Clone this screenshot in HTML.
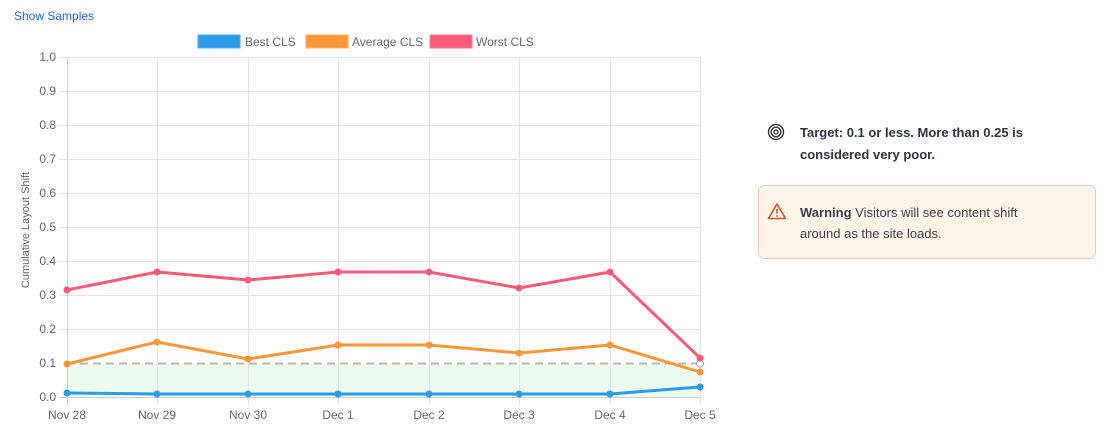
<!DOCTYPE html>
<html><head><meta charset="utf-8"><style>
body{margin:0;width:1113px;height:440px;background:#fff;font-family:"Liberation Sans",sans-serif;position:relative;overflow:hidden}
.a{position:absolute}
</style></head><body>
<div class="a" style="left:14px;top:9px;font-size:12px;color:#2563eb">Show Samples</div>
<svg class="a" style="left:0;top:0" width="740" height="440" font-family="Liberation Sans, sans-serif">
<g font-size="12" fill="#666">
<rect x="198" y="35" width="42" height="13" fill="#2d9be8" stroke="#4aaaf0"/><text x="245" y="46">Best CLS</text>
<rect x="306" y="35" width="42" height="13" fill="#ff973b" stroke="#ffab60"/><text x="352" y="46">Average CLS</text>
<rect x="430" y="35" width="42" height="13" fill="#ff5a7a" stroke="#ff7d95"/><text x="476" y="46">Worst CLS</text>
</g>
<rect x="67" y="363" width="633" height="34" fill="#ecfbef"/>
<g stroke="#e4e4e4" stroke-width="1">
<line x1="59" y1="57.5" x2="700" y2="57.5"/><line x1="59" y1="91.5" x2="700" y2="91.5"/><line x1="59" y1="125.5" x2="700" y2="125.5"/><line x1="59" y1="159.5" x2="700" y2="159.5"/><line x1="59" y1="193.5" x2="700" y2="193.5"/><line x1="59" y1="227.5" x2="700" y2="227.5"/><line x1="59" y1="261.5" x2="700" y2="261.5"/><line x1="59" y1="295.5" x2="700" y2="295.5"/><line x1="59" y1="329.5" x2="700" y2="329.5"/>
<line x1="157.5" y1="57" x2="157.5" y2="405"/><line x1="248.5" y1="57" x2="248.5" y2="405"/><line x1="338.5" y1="57" x2="338.5" y2="405"/><line x1="429.5" y1="57" x2="429.5" y2="405"/><line x1="519.5" y1="57" x2="519.5" y2="405"/><line x1="610.5" y1="57" x2="610.5" y2="405"/><line x1="700.5" y1="57" x2="700.5" y2="405"/>
</g>
<line x1="59" y1="397.5" x2="700" y2="397.5" stroke="#d0d0d0"/>
<line x1="67.5" y1="57" x2="67.5" y2="405" stroke="#d0d0d0"/>
<line x1="67" y1="363.5" x2="700" y2="363.5" stroke="#b8b8b8" stroke-width="2" stroke-dasharray="8,5"/>
<circle cx="700" cy="363.5" r="3.5" fill="#fff" stroke="#aaa"/>
<g font-size="12" fill="#666" text-anchor="end">
<text x="56" y="61">1.0</text><text x="56" y="95">0.9</text><text x="56" y="129">0.8</text><text x="56" y="163">0.7</text><text x="56" y="197">0.6</text><text x="56" y="231">0.5</text><text x="56" y="265">0.4</text><text x="56" y="299">0.3</text><text x="56" y="333">0.2</text><text x="56" y="367">0.1</text><text x="56" y="401">0.0</text>
</g>
<g font-size="12" fill="#666" text-anchor="middle">
<text x="67" y="419">Nov 28</text><text x="157" y="419">Nov 29</text><text x="248" y="419">Nov 30</text><text x="338" y="419">Dec 1</text><text x="429" y="419">Dec 2</text><text x="519" y="419">Dec 3</text><text x="610" y="419">Dec 4</text><text x="700" y="419">Dec 5</text>
</g>
<text transform="translate(29,230) rotate(-90)" font-size="11" fill="#666" text-anchor="middle">Cumulative Layout Shift</text>
<g fill="none" stroke-width="3" stroke-linejoin="round">
<polyline stroke="#ff5a7a" points="67,290 157,272 248,280 338,272 429,272 519,288 610,272 700,358"/>
<polyline stroke="#ff973b" points="67,364 157,342 248,359 338,345 429,345 519,353 610,345 700,372"/>
<polyline stroke="#2d9be8" points="67,393 157,394 248,394 338,394 429,394 519,394 610,394 700,387"/>
</g>
<g fill="#ff5a7a"><circle cx="67" cy="290" r="3.5"/><circle cx="157" cy="272" r="3.5"/><circle cx="248" cy="280" r="3.5"/><circle cx="338" cy="272" r="3.5"/><circle cx="429" cy="272" r="3.5"/><circle cx="519" cy="288" r="3.5"/><circle cx="610" cy="272" r="3.5"/><circle cx="700" cy="358" r="3.5"/></g>
<g fill="#ff973b"><circle cx="67" cy="364" r="3.5"/><circle cx="157" cy="342" r="3.5"/><circle cx="248" cy="359" r="3.5"/><circle cx="338" cy="345" r="3.5"/><circle cx="429" cy="345" r="3.5"/><circle cx="519" cy="353" r="3.5"/><circle cx="610" cy="345" r="3.5"/><circle cx="700" cy="372" r="3.5"/></g>
<g fill="#2d9be8"><circle cx="67" cy="393" r="3.5"/><circle cx="157" cy="394" r="3.5"/><circle cx="248" cy="394" r="3.5"/><circle cx="338" cy="394" r="3.5"/><circle cx="429" cy="394" r="3.5"/><circle cx="519" cy="394" r="3.5"/><circle cx="610" cy="394" r="3.5"/><circle cx="700" cy="387" r="3.5"/></g>
</svg>
<svg class="a" style="left:767px;top:123px" width="18" height="18"><g fill="none" stroke="#333" stroke-width="1.4"><circle cx="9" cy="9" r="7.5"/><circle cx="9" cy="9" r="4.8"/><circle cx="9" cy="9" r="2"/></g></svg>
<div class="a" style="left:800px;top:122px;width:280px;font-size:13px;font-weight:bold;color:#2d3340;line-height:22px">Target: 0.1 or less. More than 0.25 is considered very poor.</div>
<div class="a" style="left:758px;top:185px;width:336px;height:72px;background:#fff5e9;border:1px solid #efc9c0;border-radius:6px"></div>
<svg class="a" style="left:767px;top:202px" width="20" height="18"><path d="M10 2 L18.5 16.5 L1.5 16.5 Z" fill="none" stroke="#d9532c" stroke-width="1.6" stroke-linejoin="round"/><line x1="10" y1="7" x2="10" y2="11.5" stroke="#d9532c" stroke-width="1.6"/><circle cx="10" cy="14" r="0.9" fill="#d9532c"/></svg>
<div class="a" style="left:800px;top:202px;width:240px;font-size:13px;color:#3a3f4a;line-height:21px"><b>Warning</b> Visitors will see content shift around as the site loads.</div>
</body></html>
